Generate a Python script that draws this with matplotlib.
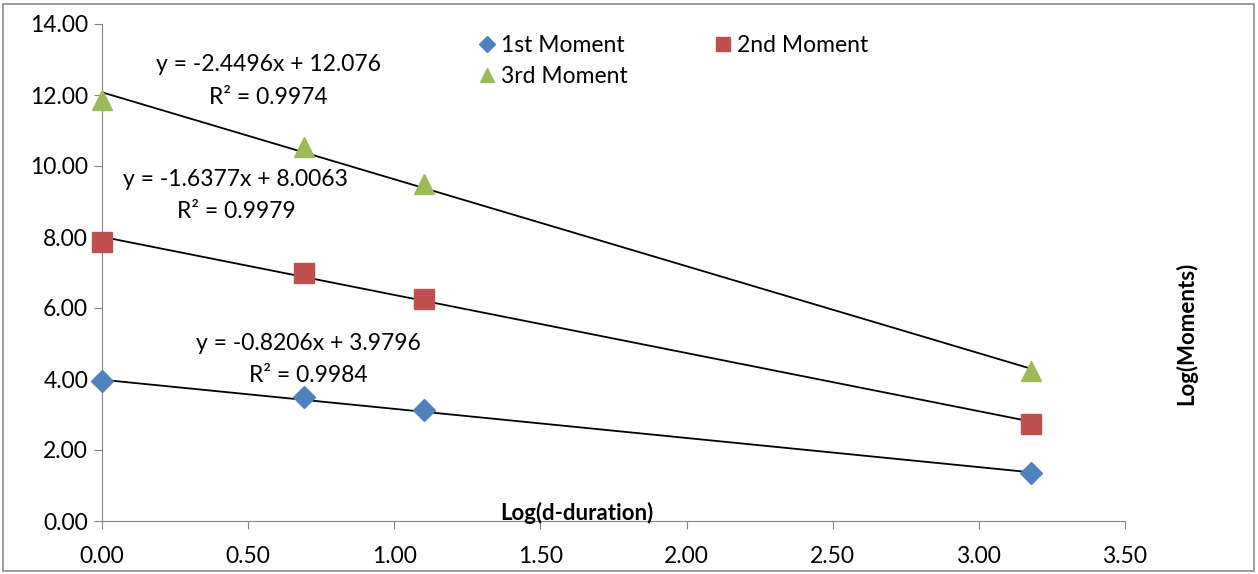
import numpy as np
import matplotlib
matplotlib.use("Agg")
import matplotlib.pyplot as plt
from matplotlib.patches import Rectangle

plt.rcParams['font.family'] = ['Lato', 'DejaVu Sans']

# ---- data
log_d = [0.0, 0.69, 1.10, 3.178]
m1 = [3.94, 3.49, 3.13, 1.35]
m2 = [7.86, 6.99, 6.25, 2.73]
m3 = [11.86, 10.54, 9.49, 4.23]

# trendline coefficients (slope, intercept) as printed on the chart
fit1 = (-0.8206, 3.9796)
fit2 = (-1.6377, 8.0063)
fit3 = (-2.4496, 12.076)
eq_labels = ["y = -0.8206x + 3.9796", "y = -1.6377x + 8.0063", "y = -2.4496x + 12.076"]
r2_labels = ["R² = 0.9984", "R² = 0.9979", "R² = 0.9974"]
eq_pos = [(0.705, 5.01, 4.11), (0.458, 9.61, 8.73), (0.568, 12.87, 11.94)]

xticks = np.arange(0, 3.51, 0.5)
yticks = np.arange(0, 14.01, 2)

fig = plt.figure(figsize=(12.58, 5.74), dpi=100)
ax = fig.add_axes([102/1258, 1-521/574, 1023/1258, 497/574])

# outer frame of the chart area
fig.patches.append(Rectangle((3/1258, 3/574), 1251/1258, 567/574, transform=fig.transFigure,
                             fill=False, edgecolor='#8c8c8c', lw=1.2))

xs = np.array([log_d[0], log_d[-1]])
for fit in (fit1, fit2, fit3):
    ax.plot(xs, fit[0]*xs + fit[1], color='black', lw=1.3, zorder=2)

h1, = ax.plot(log_d, m1, 'D', color='#4F81BD', ms=11, mec='#4F81BD', zorder=3, clip_on=False)
h2, = ax.plot(log_d, m2, 's', color='#C0504D', ms=14, mec='#C0504D', zorder=3, clip_on=False)
h3, = ax.plot(log_d, m3, '^', color='#9BBB59', ms=14, mec='#9BBB59', zorder=3, clip_on=False)

for lab, r2, (px, py1, py2) in zip(eq_labels, r2_labels, eq_pos):
    ax.text(px, py1, lab, ha='center', va='center', fontsize=16.5)
    ax.text(px, py2, r2, ha='center', va='center', fontsize=16.5)

ax.set_xlim(0, 3.5)
ax.set_ylim(0, 14)
ax.set_xticks(xticks)
ax.set_yticks(yticks)
ax.set_xticklabels(['%.2f' % v for v in xticks], fontsize=16.5)
ax.set_yticklabels(['%.2f' % v for v in yticks], fontsize=16.5)
ax.tick_params(axis='both', direction='out', length=6, color='#868686', pad=4)
ax.tick_params(axis='x', pad=12)
for s in ('top', 'right'):
    ax.spines[s].set_visible(False)
for s in ('left', 'bottom'):
    ax.spines[s].set_color('#868686')

ax.text(1.625, 0.24, 'Log(d-duration)', ha='center', va='center', fontsize=16, fontweight='bold')
fig.text(1186/1258, 1-333/574, 'Log(Moments)', rotation=90, ha='center', va='center',
         fontsize=16, fontweight='bold')

leg = ax.legend([h1, h3, h2], ['1st Moment', '3rd Moment', '2nd Moment'], ncol=2,
                loc='upper left', bbox_to_anchor=(351/1023, 1.02), frameon=False,
                fontsize=16.5, handletextpad=0.0, columnspacing=3.55, labelspacing=0.43,
                markerscale=0.7, handlelength=1.2)

fig.savefig('out.png', dpi=100)
